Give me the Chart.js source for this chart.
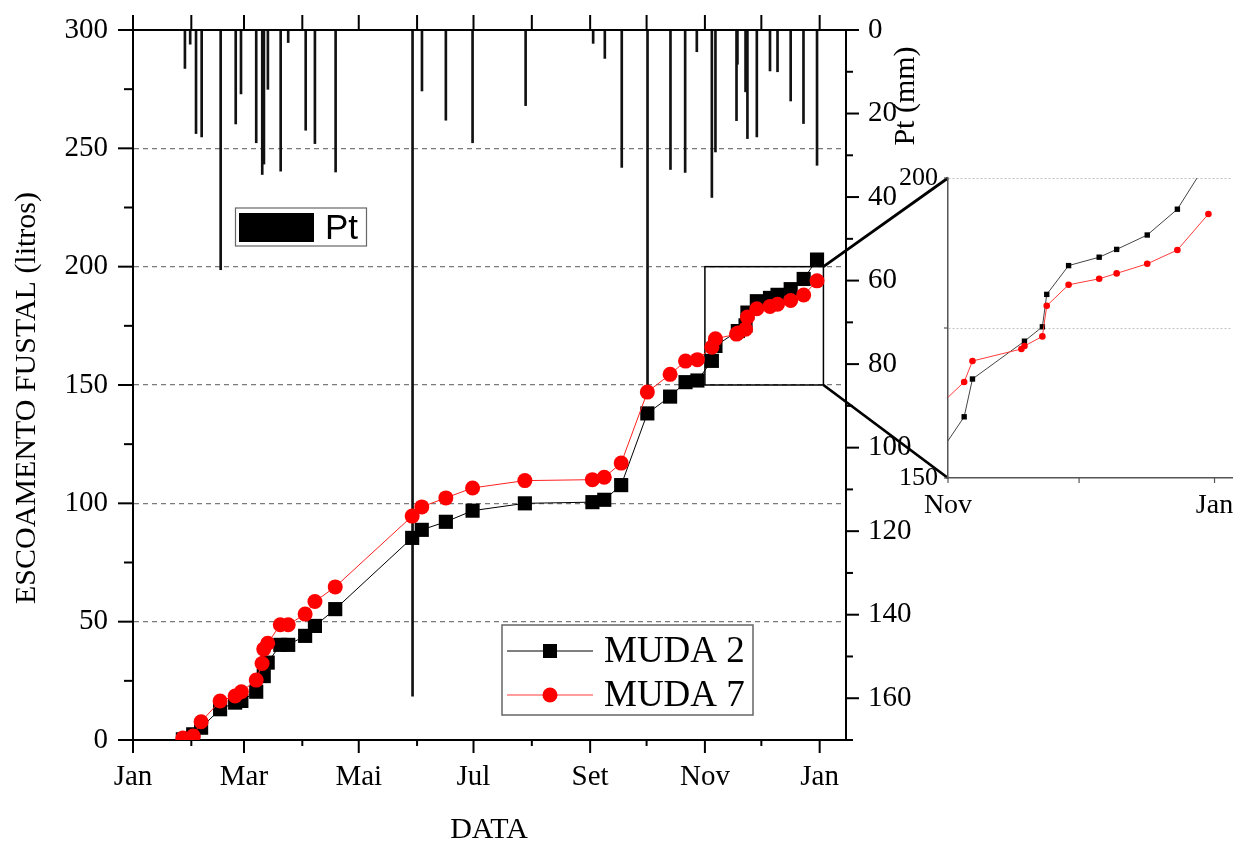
<!DOCTYPE html>
<html><head><meta charset="utf-8">
<script src="https://cdn.jsdelivr.net/npm/chart.js@4.4.0/dist/chart.umd.min.js"></script>
<style>
html,body{margin:0;padding:0;background:#fff;}
#wrap{position:relative;width:1251px;height:841px;overflow:hidden;}
#mainBox{position:absolute;left:0;top:0;width:1251px;height:841px;}
#insetBox{position:absolute;left:880px;top:150px;width:371px;height:400px;}
</style></head><body>
<div id="wrap">
  <div id="mainBox"><canvas id="main" width="1251" height="841"></canvas></div>
  <div id="insetBox"><canvas id="inset" width="371" height="400"></canvas></div>
</div>
<script>
// ---- data (x = day of year, 0 = 1 Jan) ----
const dates = [26.5, 32, 36.2, 46.3, 54.3, 57.6, 65.5, 68.6, 69.5, 71.6, 78.3, 82.5, 91.5, 96.7, 107.5, 148.4, 153.5, 166.3, 180.5, 208.3, 244.2, 250.5, 259.5, 273.4, 285.5, 293.7, 300, 307.7, 309.6, 320.8, 321.5, 325.6, 326.6, 331.6, 338.6, 342.6, 349.6, 356.5, 363.6];
const muda2 = [0.3, 2.4, 5.2, 13.0, 15.8, 16.5, 20.4, null, 27.0, 32.7, 40.2, 40.2, 44.0, 48.2, 55.3, 85.4, 88.8, 92.2, 96.9, 100.0, 100.5, 101.5, 107.7, 138.0, 145.1, 151.2, 151.9, 160.2, 166.5, null, 172.8, 175.2, 180.6, 185.4, 186.8, 188.1, 190.5, 194.8, 203.0];
const muda7 = [0.8, 1.7, 7.7, 16.5, 18.6, 20.4, 25.3, 32.3, 38.4, 40.9, 48.7, 48.7, 53.2, 58.5, 64.7, 94.6, 98.5, 102.3, 106.5, 109.6, 110.0, 111.0, 117.0, 147.0, 154.5, 160.1, 160.7, 166.0, 169.5, 171.5, 172.0, 173.6, 178.7, 182.2, 183.2, 184.1, 185.7, 188.0, 194.0];
const rainDates = [27.6, 30.4, 33.5, 36.5, 46.6, 54.6, 57.4, 65.5, 68.7, 69.6, 71.7, 78.5, 82.5, 91.8, 96.7, 107.7, 148.6, 153.6, 166.3, 180.5, 208.7, 244.6, 250.8, 259.8, 273.5, 285.7, 293.5, 299.7, 307.7, 309.6, 320.8, 321.3, 325.6, 326.6, 331.6, 338.6, 342.6, 349.6, 356.4, 363.6];
const rainPt = [9.2, 3.4, 24.8, 25.6, 57.4, 22.5, 15.3, 27.0, 34.6, 32.1, 14.2, 33.8, 3.0, 24.0, 27.2, 34.0, 159.5, 14.6, 21.6, 27.0, 18.1, 3.2, 6.8, 32.9, 87.0, 33.4, 34.1, 5.2, 40.1, 29.2, 21.7, 8.2, 14.8, 26.0, 25.6, 9.8, 10.0, 17.0, 22.4, 32.4];
const monthStarts = [0, 31, 59, 90, 120, 151, 181, 212, 243, 273, 304, 334, 365];
const monthLabels = ['Jan', '', 'Mar', '', 'Mai', '', 'Jul', '', 'Set', '', 'Nov', '', 'Jan'];
const insetTicks = [304, 334, 365];
const insetTickLabels = ['Nov', '', 'Jan'];
const insetYTicks = [150, 175, 200];
const insetYLabels = ['150', '', '200'];
const zoomX = [304, 367];
const zoomY = [150, 200];

const SERIF = '"Liberation Serif", "Times New Roman", serif';
const SANS = '"Liberation Sans", Arial, sans-serif';
const pts = (xs, ys) => xs.map((x, i) => ({x: x, y: ys[i]}));
function seg(ctx, x1, y1, x2, y2, w, c) {
  ctx.beginPath(); ctx.lineWidth = w; ctx.strokeStyle = c;
  ctx.moveTo(x1, y1); ctx.lineTo(x2, y2); ctx.stroke();
}
function noPad(s) { s.paddingTop = 0; s.paddingBottom = 0; s.paddingLeft = 0; s.paddingRight = 0; }

// ---------------- inset chart ----------------
const insetDecor = {
  id: 'insetDecor',
  afterDraw(chart) {
    const {ctx, chartArea: ca, scales: {x, y}} = chart;
    ctx.save();
    insetTicks.forEach(v => { const px = x.getPixelForValue(v); seg(ctx, px, ca.bottom, px, ca.bottom + 5, 1.2, '#555'); });
    insetYTicks.forEach(v => { const py = y.getPixelForValue(v); seg(ctx, ca.left - 4, py, ca.left, py, 1.2, '#555'); });
    ctx.restore();
  }
};
const insetChart = new Chart(document.getElementById('inset'), {
  type: 'line',
  data: { datasets: [
    { label: 'MUDA 7', data: pts(dates, muda7), borderColor: '#ff3b3b', borderWidth: 1, pointStyle: 'circle', pointRadius: 3.3, pointBackgroundColor: '#ff0000', pointBorderWidth: 0, spanGaps: true, order: 0 },
    { label: 'MUDA 2', data: pts(dates, muda2), borderColor: '#444', borderWidth: 1, pointStyle: 'rect', pointRadius: 3.8, pointBackgroundColor: '#000', pointBorderWidth: 0, spanGaps: true, order: 1 }
  ]},
  options: {
    responsive: false, animation: false, events: [],
    layout: { padding: { top: 28, right: 19, left: 0, bottom: 0 } },
    plugins: { legend: { display: false }, tooltip: { enabled: false } },
    scales: {
      x: { type: 'linear', min: 304, max: 369, offset: false,
        afterBuildTicks: s => { s.ticks = insetTicks.map(v => ({value: v})); },
        afterFit: s => { s.height = 72; noPad(s); },
        ticks: { callback: (v, i) => insetTickLabels[i], font: { family: SERIF, size: 28 }, color: '#000', padding: 11, maxRotation: 0, autoSkip: false },
        grid: { display: false, drawTicks: false },
        border: { color: '#555', width: 1.5 } },
      y: { type: 'linear', min: 150, max: 200,
        afterBuildTicks: s => { s.ticks = insetYTicks.map(v => ({value: v})); },
        afterFit: s => { s.width = 68; noPad(s); },
        ticks: { callback: (v, i) => insetYLabels[i], font: { family: SERIF, size: 26 }, color: '#000', padding: 10 },
        grid: { color: c => (c.tick && c.tick.value > 150) ? '#c4c4c4' : 'rgba(0,0,0,0)', lineWidth: 1, drawTicks: false },
        border: { color: '#555', width: 1.5, dash: [2, 2] } }
    }
  },
  plugins: [insetDecor]
});

// ---------------- main chart ----------------
const mainDecor = {
  id: 'mainDecor',
  beforeDatasetsDraw(chart) {
    const {ctx, scales: {x, y}} = chart;
    ctx.save();
    const x1 = x.getPixelForValue(zoomX[0]), x2 = x.getPixelForValue(zoomX[1]);
    const y1 = y.getPixelForValue(zoomY[1]), y2 = y.getPixelForValue(zoomY[0]);
    ctx.lineWidth = 1.5; ctx.strokeStyle = '#000';
    ctx.strokeRect(x1, y1, x2 - x1, y2 - y1);
    ctx.restore();
  },
  afterDraw(chart) {
    const {ctx, chartArea: ca, scales: {x, y, y2}} = chart;
    ctx.save();
    ctx.lineCap = 'butt';
    // top frame
    seg(ctx, ca.left - 1, ca.top, ca.right + 1, ca.top, 2, '#000');
    // top ticks (every month)
    monthStarts.forEach(v => { const px = x.getPixelForValue(v); seg(ctx, px, ca.top, px, ca.top - 15, 2, '#000'); });
    // bottom ticks
    monthStarts.forEach((v, i) => { const px = x.getPixelForValue(v); seg(ctx, px, ca.bottom, px, ca.bottom + (monthLabels[i] ? 13 : 6), 2, '#000'); });
    // left ticks
    y.ticks.forEach(t => { const py = y.getPixelForValue(t.value); seg(ctx, ca.left - (t.value % 50 === 0 ? 15 : 9), py, ca.left, py, 2, '#000'); });
    // right ticks
    y2.ticks.forEach(t => { const py = y2.getPixelForValue(t.value); seg(ctx, ca.right, py, ca.right + (t.value % 20 === 0 ? 13 : 7), py, 2, '#000'); });

    // zoom connectors
    const bx = x.getPixelForValue(zoomX[1]);
    const by1 = y.getPixelForValue(zoomY[1]), by2 = y.getPixelForValue(zoomY[0]);
    const ib = insetChart.chartArea;
    const ox = 880, oy = 150;
    seg(ctx, bx, by1, ox + ib.left, oy + ib.top, 2.8, '#000');
    seg(ctx, bx, by2, ox + ib.left, oy + ib.bottom, 2.8, '#000');

    // axis titles
    ctx.fillStyle = '#000';
    ctx.font = '30px ' + SERIF;
    ctx.textAlign = 'center'; ctx.textBaseline = 'alphabetic';
    ctx.fillText('DATA', 489, 838);
    ctx.save(); ctx.translate(35, 398); ctx.rotate(-Math.PI / 2);
    ctx.fillText('ESCOAMENTO FUSTAL (litros)', 0, 0); ctx.restore();
    ctx.save(); ctx.translate(914, 96); ctx.rotate(-Math.PI / 2);
    ctx.fillText('Pt (mm)', 0, 0); ctx.restore();

    // Pt legend
    ctx.lineWidth = 1.2; ctx.strokeStyle = '#666';
    ctx.strokeRect(235.5, 208, 131, 38);
    ctx.fillStyle = '#000'; ctx.fillRect(239, 213, 75, 29);
    ctx.font = '35px ' + SANS; ctx.textAlign = 'left';
    ctx.fillText('Pt', 325, 239);

    // MUDA legend
    ctx.lineWidth = 1.5; ctx.strokeStyle = '#666';
    ctx.strokeRect(502, 625, 251, 90);
    seg(ctx, 507, 651, 593, 651, 1, '#000');
    ctx.fillStyle = '#000'; ctx.fillRect(543, 644, 14, 14);
    seg(ctx, 507, 695, 593, 695, 1, '#ff3b3b');
    ctx.fillStyle = '#ff0000'; ctx.beginPath(); ctx.arc(550, 695, 7.5, 0, Math.PI * 2); ctx.fill();
    ctx.fillStyle = '#000'; ctx.font = '37px ' + SERIF;
    ctx.fillText('MUDA 2', 604, 662);
    ctx.fillText('MUDA 7', 604, 706);
    ctx.restore();
  }
};

const mainChart = new Chart(document.getElementById('main'), {
  type: 'line',
  data: { datasets: [
    { type: 'line', label: 'MUDA 7', data: pts(dates, muda7), yAxisID: 'y', borderColor: '#ff2020', borderWidth: 1, pointStyle: 'circle', pointRadius: 7.5, pointBackgroundColor: '#ff0000', pointBorderWidth: 0, spanGaps: true, order: 0 },
    { type: 'line', label: 'MUDA 2', data: pts(dates, muda2), yAxisID: 'y', borderColor: '#000', borderWidth: 1, pointStyle: 'rect', pointRadius: 10, pointBackgroundColor: '#000', pointBorderWidth: 0, spanGaps: true, order: 1 },
    { type: 'bar', label: 'Pt', data: pts(rainDates, rainPt), yAxisID: 'y2', backgroundColor: '#111', barThickness: 2, order: 2 }
  ]},
  options: {
    responsive: false, animation: false, events: [],
    layout: { padding: { top: 30, left: 0, right: 0, bottom: 0 } },
    plugins: { legend: { display: false }, tooltip: { enabled: false } },
    scales: {
      x: { type: 'linear', position: 'bottom', min: 0, max: 379, offset: false,
        afterBuildTicks: s => { s.ticks = monthStarts.map(v => ({value: v})); },
        afterFit: s => { s.height = 101; noPad(s); },
        ticks: { callback: (v, i) => monthLabels[i], font: { family: SERIF, size: 29 }, color: '#000', padding: 20, maxRotation: 0, autoSkip: false },
        grid: { display: false, drawTicks: false, offset: false },
        border: { color: '#000', width: 2 } },
      y: { type: 'linear', position: 'left', min: 0, max: 300,
        afterFit: s => { s.width = 133; noPad(s); },
        ticks: { stepSize: 25, callback: v => (v % 50 === 0 ? String(v) : ''), font: { family: SERIF, size: 29 }, color: '#000', padding: 25 },
        grid: { color: c => (c.tick && c.tick.value % 50 === 0 && c.tick.value > 0) ? '#7a7a7a' : 'rgba(0,0,0,0)', lineWidth: 1.3, drawTicks: false },
        border: { color: '#000', width: 2, dash: [5, 4] } },
      y2: { type: 'linear', position: 'right', min: 0, max: 170, reverse: true,
        afterFit: s => { s.width = 405; noPad(s); },
        ticks: { stepSize: 10, callback: v => (v % 20 === 0 && v <= 160 ? String(v) : ''), font: { family: SERIF, size: 29 }, color: '#000', padding: 22 },
        grid: { display: false, drawTicks: false },
        border: { color: '#000', width: 2 } }
    }
  },
  plugins: [mainDecor]
});
</script>
</body></html>
